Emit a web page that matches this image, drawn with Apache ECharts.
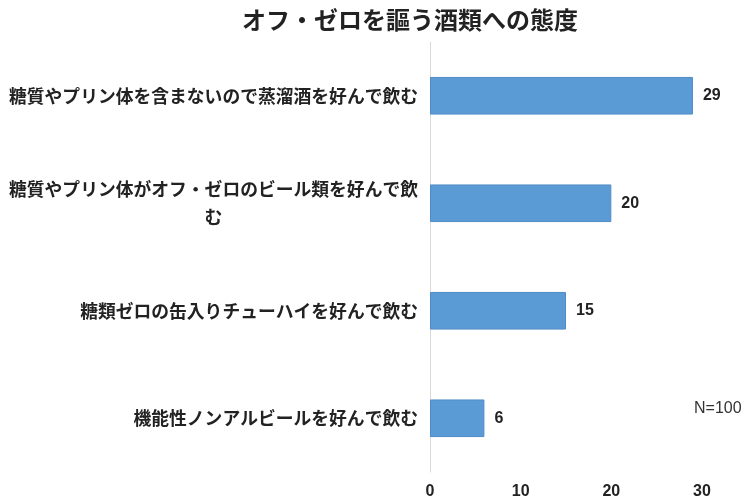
<!DOCTYPE html>
<html>
<head>
<meta charset="utf-8">
<script src="https://cdn.jsdelivr.net/npm/echarts@6/dist/echarts.min.js"></script>
<style>html,body{margin:0;padding:0;background:#fff;}#c{width:750px;height:500px;}</style>
</head>
<body>
<div id="c"></div>
<script>
const titleText = 'オフ・ゼロを謳う酒類への態度';
const categories = [
  '糖質やプリン体を含まないので蒸溜酒を好んで飲む',
  '糖質やプリン体がオフ・ゼロのビール類を好んで飲む',
  '糖類ゼロの缶入りチューハイを好んで飲む',
  '機能性ノンアルビールを好んで飲む'
];
const values = [29, 20, 15, 6];
const xTicks = [0, 10, 20, 30];
const noteText = 'N=100';

const chart = echarts.init(document.getElementById('c'));
const jp = '"Noto Sans CJK JP", sans-serif';
const num = '"Liberation Sans", Arial, sans-serif';
chart.setOption({
  backgroundColor: '#fff',
  animation: false,
  title: {
    text: titleText, left: 405, top: 3, textAlign: 'center',
    textStyle: { fontFamily: jp, fontSize: 24, fontWeight: 'bold', color: '#222' }
  },
  grid: { left: 430, right: 48, top: 42, bottom: 28, containLabel: false },
  xAxis: {
    type: 'value', min: xTicks[0], max: xTicks[xTicks.length - 1], interval: 10,
    axisLine: { show: false }, axisTick: { show: false }, splitLine: { show: false },
    axisLabel: { fontFamily: num, fontSize: 16, fontWeight: 'bold', color: '#222', margin: 12 }
  },
  yAxis: {
    type: 'category', data: categories, inverse: true,
    axisLine: { show: true, lineStyle: { color: '#d9d9d9', width: 1 } },
    axisTick: { show: false },
    axisLabel: {
      margin: 12, color: '#222', fontFamily: jp, fontSize: 17.8, fontWeight: 'bold', align: 'right',
      formatter: function (v) {
        if (v.length > 23) {
          return '{w|' + v.slice(0, 23) + '}\n{w|' + v.slice(23) + '}';
        }
        return v;
      },
      rich: {
        w: { width: 409, align: 'center', fontFamily: jp, fontSize: 17.8, fontWeight: 'bold', color: '#222', lineHeight: 28 }
      }
    }
  },
  series: [{
    type: 'bar', data: values, barWidth: '35%',
    itemStyle: { color: '#5B9BD5', borderColor: '#4F8CC6', borderWidth: 1 },
    label: {
      show: true, position: 'right', distance: 10,
      fontFamily: num, fontSize: 16, fontWeight: 'bold', color: '#222'
    }
  }],
  graphic: [{
    type: 'text', left: 694, top: 401,
    style: { text: noteText, fontFamily: num, fontSize: 16, fill: '#333' }
  }]
});
</script>
</body>
</html>
